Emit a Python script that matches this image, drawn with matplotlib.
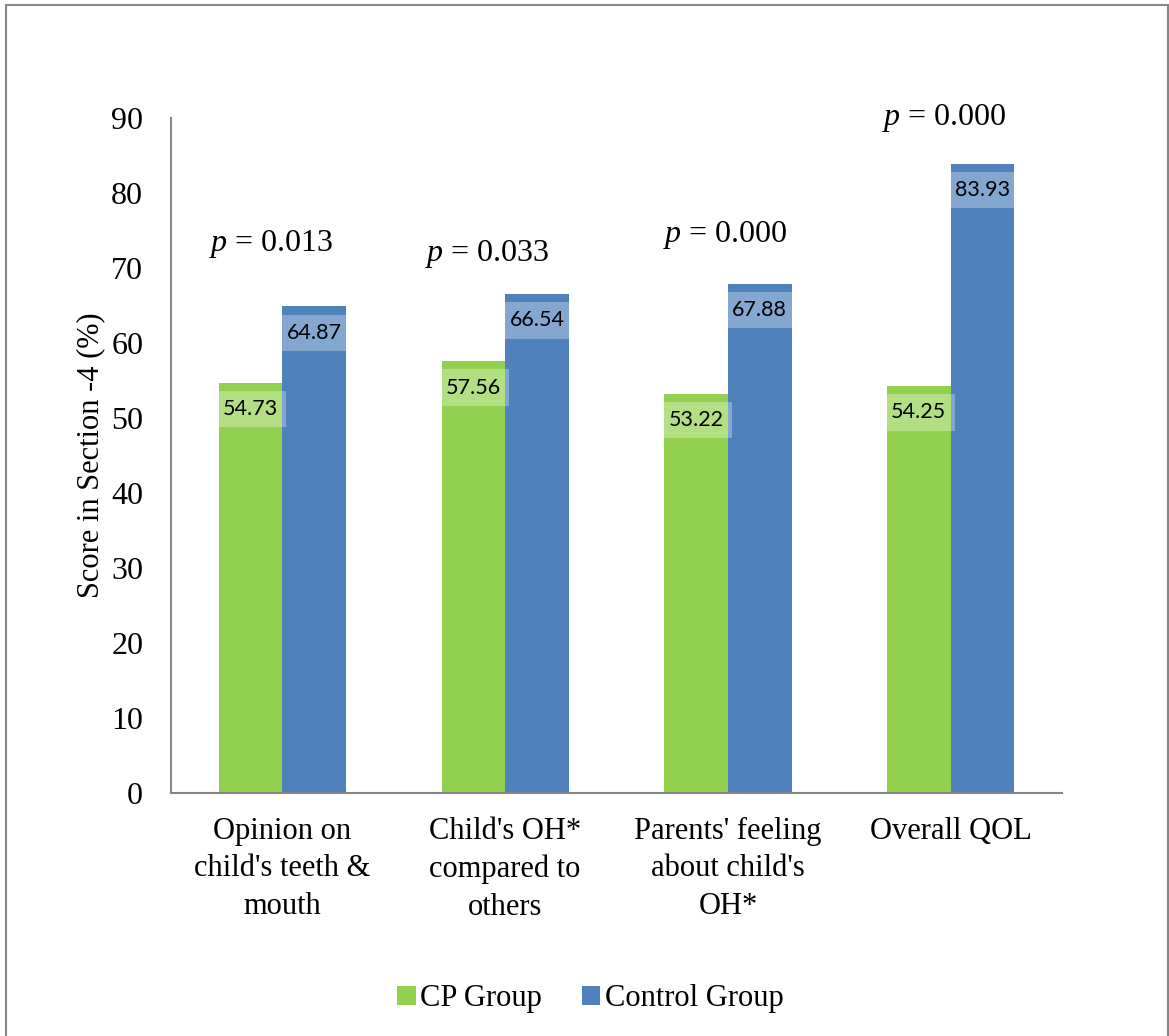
import matplotlib.pyplot as plt
import numpy as np
from matplotlib.patches import Rectangle

categories = [
    "Opinion on\nchild's teeth &\nmouth",
    "Child's OH*\ncompared to\nothers",
    "Parents' feeling\nabout child's\nOH*",
    "Overall QOL",
]
cp_group = [54.73, 57.56, 53.22, 54.25]
control_group = [64.87, 66.54, 67.88, 83.93]
p_labels = ["0.013", "0.033", "0.000", "0.000"]
p_heights = [72.3, 70.9, 73.5, 89.1]
p_shift = [-0.051, -0.078, -0.013, -0.03]

GREEN = "#92D050"
BLUE = "#4F81BD"
GRAY = "#868686"
SERIF = "Liberation Serif"

plt.rcParams["font.family"] = SERIF
plt.rcParams["mathtext.fontset"] = "custom"
plt.rcParams["mathtext.it"] = "Liberation Serif:italic"
plt.rcParams["mathtext.rm"] = "Liberation Serif"

fig = plt.figure(figsize=(11.69, 10.36), dpi=100)
ax = fig.add_axes([0.1463, 0.2346, 0.7622, 0.6515])

x = np.arange(len(categories))
width = 0.2857
b1 = ax.bar(x - width / 2, cp_group, width, color=GREEN, label="CP Group")
b2 = ax.bar(x + width / 2, control_group, width, color=BLUE, label="Control Group")

# value labels sit just under the bar tops on a faint white box
for bars, vals in [(b1, cp_group), (b2, control_group)]:
    for bar, v in zip(bars, vals):
        ax.annotate(f"{v:.2f}", (bar.get_x() + bar.get_width() / 2, v),
                    xytext=(0, -19), textcoords="offset points",
                    ha="center", va="center", fontsize=15.5, family="Lato",
                    bbox=dict(boxstyle="square,pad=0.38", fc="white",
                              ec="none", alpha=0.3))

for i, (lab, h) in enumerate(zip(p_labels, p_heights)):
    ax.text(i + p_shift[i], h, f"$p$ = {lab}", ha="center",
            va="baseline", fontsize=23)

ax.set_xlim(-0.5, 3.5)
ax.set_ylim(0, 90)
ax.set_yticks(range(0, 91, 10))
ax.set_xticks(x)
ax.set_xticklabels(categories, fontsize=22, linespacing=1.4)
ax.tick_params(axis="y", length=0, pad=20, labelsize=23)
ax.tick_params(axis="x", length=0, pad=17)
ax.set_ylabel("Score in Section -4 (%)", fontsize=22, labelpad=4)

for s in ["top", "right"]:
    ax.spines[s].set_visible(False)
for s in ["left", "bottom"]:
    ax.spines[s].set_color(GRAY)
    ax.spines[s].set_linewidth(1.5)

fig.legend(handles=[b1, b2], loc="center", bbox_to_anchor=(0.505, 0.036),
           ncol=2, frameon=False, fontsize=22, handlelength=0.6,
           handleheight=0.6, handletextpad=0.15, columnspacing=1.3)

fig.patches.append(Rectangle((6 / 1169, -0.05), 1162 / 1169, 1.05 - 5 / 1036,
                             transform=fig.transFigure, fill=False,
                             ec=GRAY, lw=1.5))

fig.savefig("out.png", dpi=100)
